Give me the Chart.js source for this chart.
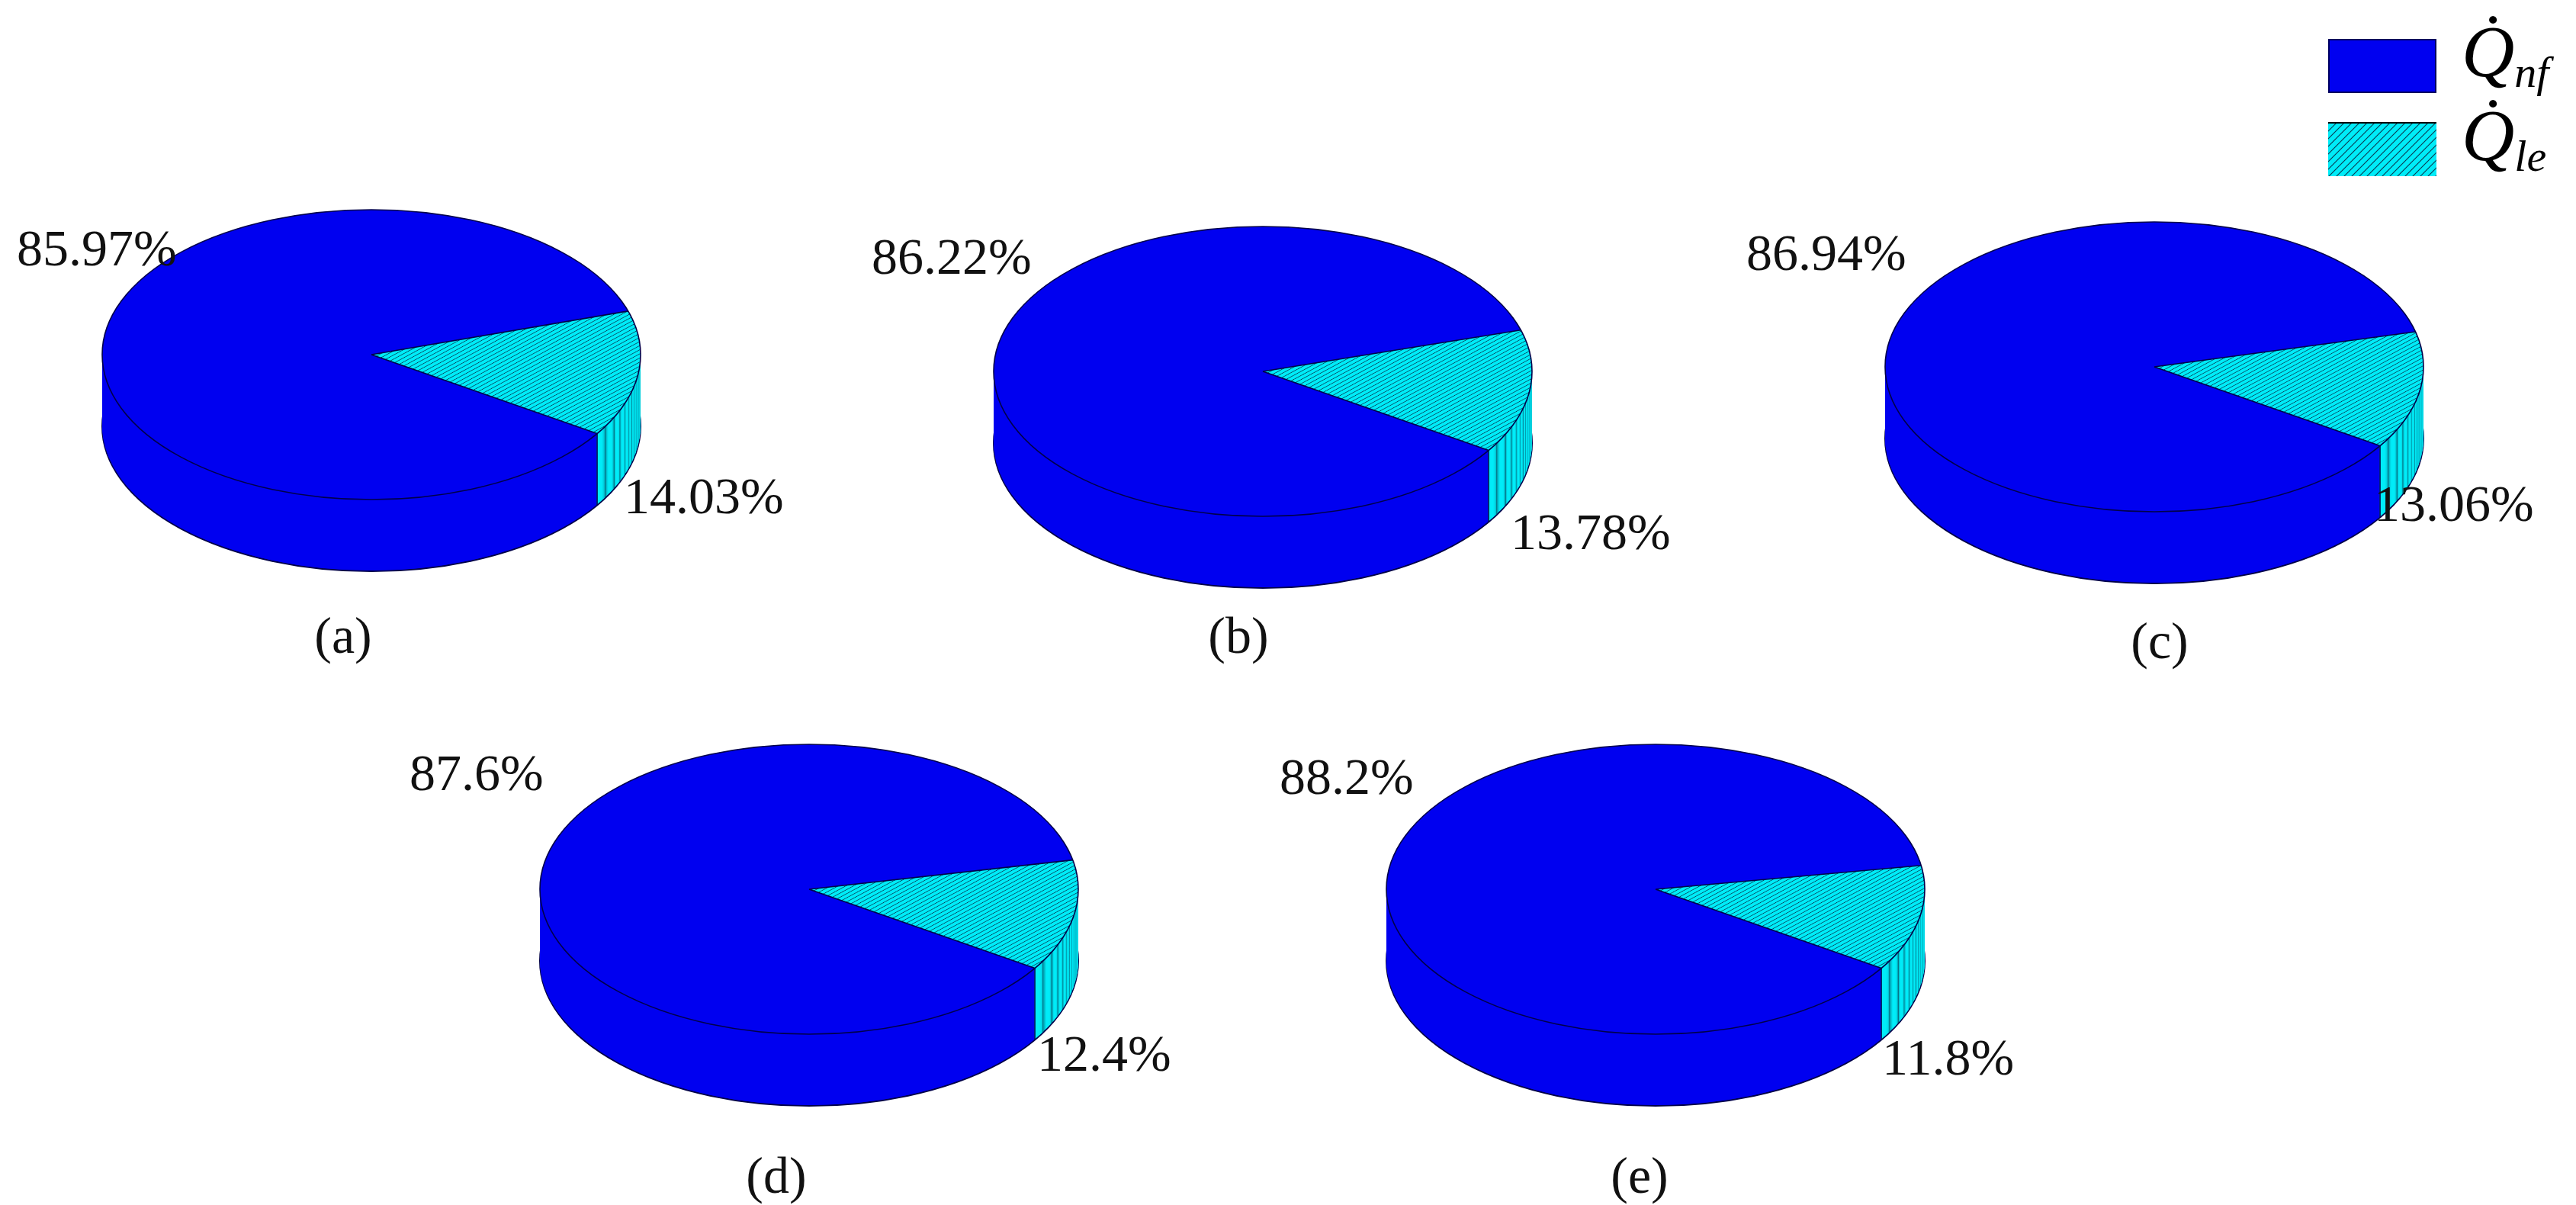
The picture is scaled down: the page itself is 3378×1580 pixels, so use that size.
<!DOCTYPE html>
<html><head><meta charset="utf-8">
<script src="https://cdn.jsdelivr.net/npm/chart.js@4/dist/chart.umd.min.js"></script>
<style>
body{margin:0;background:#fff;width:3378px;height:1580px;position:relative;overflow:hidden;font-family:"Liberation Serif",serif;}
.pc{position:absolute;width:740px;height:740px;}
.t{position:absolute;font-size:68px;color:#111;white-space:nowrap;line-height:1;transform:translateY(-50%);}
.c{transform:translate(-50%,-50%);}
.lg{position:absolute;left:3053px;width:142px;height:71px;box-sizing:border-box;}
.lt{position:absolute;left:3228px;font-size:96px;font-style:italic;line-height:1;}
.lt sub{font-size:58px;vertical-align:-14px;}
</style></head><body>
<script>
const panels=['(a)','(b)','(c)','(d)','(e)'];
const nf=[85.97,86.22,86.94,87.6,88.2];
const le=[14.03,13.78,13.06,12.4,11.8];
const series=['Q̇nf','Q̇le'];
const centers=[[487,465],[1656,487],[2825,481],[1061,1166],[2171,1166]];
const topLbl=[[22,325],[1143,336],[2290,331],[537,1013],[1678,1018]];
const botLbl=[[818,650],[1981,697],[3113,660],[1360,1381],[2468,1386]];
const capLbl=[[450,833],[1624,833],[2832,840],[1018,1541],[2150,1541]];
const BLUE='#0000f0',CYAN='#00ecf8',EDGE='#00004a';
function hatch(){const c=document.createElement('canvas');c.width=c.height=10;const x=c.getContext('2d');
x.fillStyle=CYAN;x.fillRect(0,0,10,10);x.strokeStyle='#0a3a50';x.lineWidth=1.1;
x.beginPath();x.moveTo(0,10);x.lineTo(10,0);x.moveTo(-5,5);x.lineTo(5,-5);x.moveTo(5,15);x.lineTo(15,5);x.stroke();
return document.createElement('canvas').getContext('2d').createPattern(c,'repeat');}
const K=190/353,D=94;
const pie3d={id:'pie3d',beforeDatasetsDraw(chart){
 const ctx=chart.ctx,arcs=chart.getDatasetMeta(0).data;if(!arcs.length)return false;
 const cx=arcs[0].x,cy=arcs[0].y,R=arcs[0].outerRadius;
 const tf=(d)=>{ctx.translate(cx,cy+d);ctx.scale(1,K);ctx.translate(-cx,-cy);};
 for(let d=D;d>=0;d--){ctx.save();tf(d);arcs.forEach(a=>a.draw(ctx));
  if(d===D){ctx.beginPath();ctx.arc(cx,cy,R,0,Math.PI*2);ctx.restore();ctx.strokeStyle=EDGE;ctx.lineWidth=2;ctx.stroke();ctx.save();}
  ctx.restore();}
 // side vertical edges at slice boundaries (front)
 arcs.forEach(a=>{[a.startAngle].forEach(an=>{const s=Math.sin(an);if(s>0){const x=cx+R*Math.cos(an),y=cy+R*s*K;
  ctx.beginPath();ctx.moveTo(x,y);ctx.lineTo(x,y+D);ctx.strokeStyle=EDGE;ctx.lineWidth=1.5;ctx.stroke();}});});
 // top outline
 ctx.save();tf(0);ctx.beginPath();ctx.arc(cx,cy,R,0,Math.PI*2);
 arcs.forEach(a=>{ctx.moveTo(cx,cy);ctx.lineTo(cx+R*Math.cos(a.startAngle),cy+R*Math.sin(a.startAngle));});
 ctx.restore();ctx.strokeStyle=EDGE;ctx.lineWidth=1.6;ctx.stroke();
 return false;}};
const pat=hatch();
panels.forEach((p,i)=>{
 const [cx,cy]=centers[i];
 const div=document.createElement('div');div.className='pc';div.style.left=(cx-370)+'px';div.style.top=(cy-370)+'px';
 const cv=document.createElement('canvas');div.appendChild(cv);document.body.appendChild(div);
 new Chart(cv,{type:'pie',plugins:[pie3d],data:{labels:[series[1],series[0]],datasets:[{data:[le[i],nf[i]],
  backgroundColor:[pat,BLUE],borderWidth:0,hoverOffset:0,offset:0}]},
  options:{responsive:true,maintainAspectRatio:false,animation:false,events:[],rotation:(33-le[i]*3.6)+90,
   layout:{padding:17},plugins:{legend:{display:false},tooltip:{enabled:false}}}});
 const add=(txt,pos,cls)=>{const e=document.createElement('div');e.className='t '+(cls||'');e.textContent=txt;e.style.left=pos[0]+'px';e.style.top=pos[1]+'px';document.body.appendChild(e);};
 add(nf[i]+'%',topLbl[i]);add(le[i]+'%',botLbl[i]);add(p,capLbl[i],'c');
});
</script>
<div class="lg" style="top:51px;background:#0000f0;border:2px solid #000060"></div>
<div class="lg" id="lg2" style="top:160px;border-top:2px solid #000"></div>
<div class="lt" style="top:20px">Q̇<sub>nf</sub></div>
<div class="lt" style="top:130px">Q̇<sub>le</sub></div>
<script>
const c2=document.createElement('canvas');c2.width=142;c2.height=69;const g=c2.getContext('2d');g.fillStyle=pat;g.fillRect(0,0,142,69);
document.getElementById('lg2').appendChild(c2);c2.style.display='block';
</script>
</body></html>
